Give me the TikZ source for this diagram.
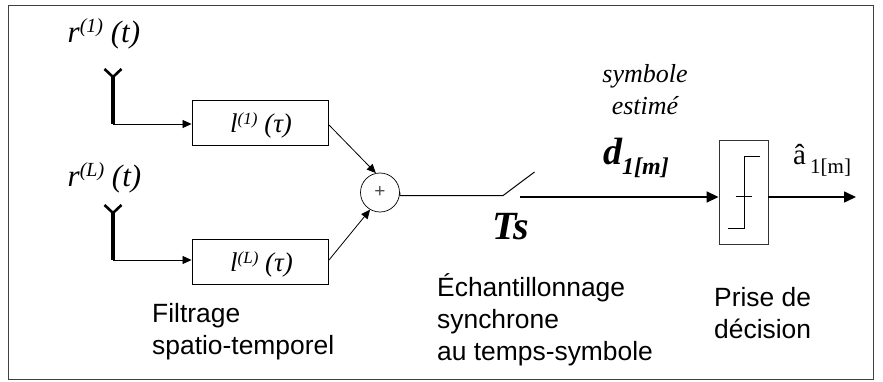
\documentclass[tikz,border=0pt]{standalone}
\usepackage{fontspec}
\setmainfont{Liberation Serif}
\newfontfamily\arialf{Liberation Sans}
\usetikzlibrary{arrows.meta}
\newcommand{\fs}[1]{\fontsize{#1}{#1}\selectfont}
\tikzset{
  x=1pt,y=-1pt,
  lbl/.style={inner sep=0pt,anchor=base west,font=\arialf\fontsize{26.4}{26.4}\selectfont},
  math/.style={inner sep=0pt,anchor=base west},
  filt/.style={draw=black,line width=0.9pt,minimum width=136pt,minimum height=45pt,inner sep=0pt},
  wire/.style={line width=0.8pt,-{Triangle[length=9pt,width=8pt]}},
  busw/.style={line width=1.6pt,-{Triangle[length=12pt,width=11pt]}},
  ant/.style={line width=2.6pt,black},
  antstem/.style={line width=3.6pt,black},
}
\begin{document}
\begin{tikzpicture}
\useasboundingbox (0,0) rectangle (883,382);
\draw[line width=0.9pt,black!75] (8.5,5) rectangle (873,379);

% antennas
\coordinate (a1) at (113,124);
\coordinate (a2) at (113,260);
\coordinate (a1t) at (113,77);
\coordinate (a2t) at (113,213);
\draw[antstem] (a1t) -- (a1);
\draw[ant] (104.5,69) -- (a1t) -- (121.5,69);
\draw[antstem] (a2t) -- (a2);
\draw[ant] (104.5,205) -- (a2t) -- (121.5,205);

% filters
\node[filt] (f1) at (260,123) {};
\node[filt] (f2) at (260,262) {};
\node[draw=black,line width=0.7pt,circle,minimum size=39pt,inner sep=0pt] (sum) at (380,192.5)
  {\arialf\fs{19}\textcolor{black!70}{+}};

\node[math] (r1) at (67.5,42.7) {\fs{31}\itshape r\raisebox{10pt}{\fs{20}(1)} (t)};
\node[math] (r2) at (67.5,186.7) {\fs{31}\itshape r\raisebox{10pt}{\fs{20}(L)} (t)};
\node[math] (l1) at (230,132.7) {\fs{27}\itshape l\raisebox{8pt}{\fs{17}(1)} (τ)};
\node[math] (l2) at (230,271.7) {\fs{27}\itshape l\raisebox{8pt}{\fs{17}(L)} (τ)};

\draw[wire] (a1) -- (f1.west |- a1);
\draw[wire] (a2) -- (f2.west |- a2);
\coordinate (f1o) at (329,125);
\coordinate (f2o) at (329,260);
\draw[wire] (f1o) -- (sum.102);
\draw[wire] (f2o) -- (sum.240);

% switch
\coordinate (sw1) at (503,195.6);
\coordinate (sw2) at (534.5,172);
\coordinate (sw3) at (520,197);
\draw[line width=1pt] (sum.east) -- (400,195.6) -- (sw1) -- (sw2);

% decision
\node[draw=black!80,line width=0.9pt,minimum width=49pt,minimum height=104pt,inner sep=0pt] (dec) at (743.5,192) {};
\draw[line width=0.8pt] (727.5,228) -- (744,228) -- (744,156.5) -- (760,156.5);
\draw[line width=0.8pt] (735.5,196) -- (752,196);
\coordinate (out) at (856,197);
\draw[busw] (sw3) -- (sw3 -| dec.west);
\draw[busw] (dec.east |- out) -- (out);

% labels
\node[math] (ts) at (492.5,239) {\fs{40}\bfseries\itshape Ts};
\node[inner sep=0pt,anchor=base] (sy) at (645,82.7) {\fs{26}\itshape symbole};
\node[inner sep=0pt,anchor=base] (es) at (645,115) {\fs{26}\itshape estimé};
\node[math] (d) at (603,165) {\fs{38}\bfseries\itshape d};
\node[math] (dsub) at (622,175) {\fs{24}\bfseries\itshape 1[m]};
\node[math] (ah) at (793,165) {\fs{29}â};
\node[math] (ahs) at (810,174) {\fs{21}1[m]};

\node[lbl] (t1) at (152,322.7) {Filtrage};
\node[lbl] (t2) at (152,354) {spatio-temporel};
\node[lbl] (t3) at (437,296.7) {Échantillonnage};
\node[lbl] (t4) at (437,328) {synchrone};
\node[lbl] (t5) at (437,360.7) {au temps-symbole};
\node[lbl] (t6) at (714,306.7) {Prise de};
\node[lbl] (t7) at (714,338) {décision};
\end{tikzpicture}
\end{document}
